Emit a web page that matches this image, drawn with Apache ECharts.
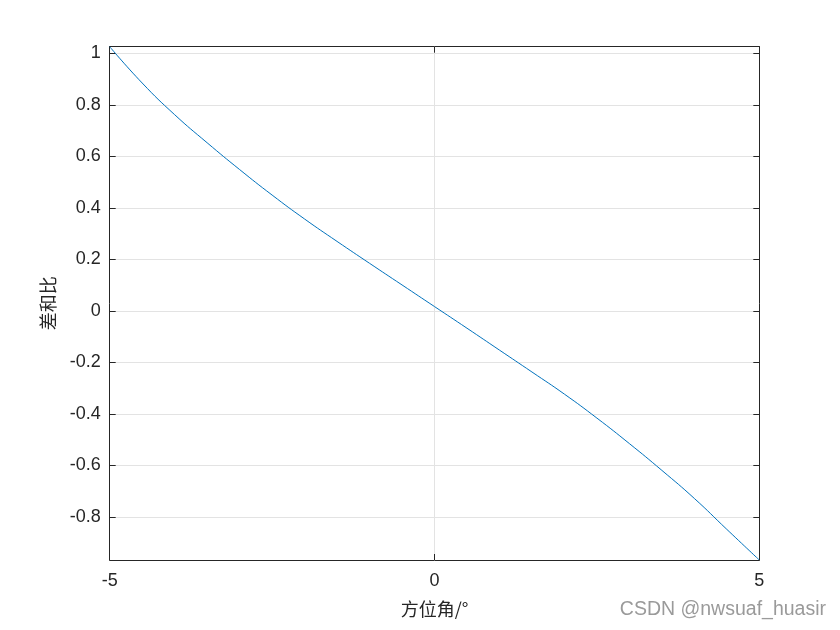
<!DOCTYPE html>
<html>
<head>
<meta charset="utf-8">
<script src="https://cdn.jsdelivr.net/npm/echarts@6/dist/echarts.min.js"></script>
<style>html,body{margin:0;padding:0;background:#fff}#c{width:840px;height:630px}</style>
</head>
<body>
<div id="c"></div>
<script>
// azimuth angle (deg)
var xs = [-5, -4.5, -4, -3.5, -3, -2.5, -2, -1.5, -1, -0.5, 0, 0.5, 1, 1.5, 2, 2.5, 3, 3.5, 4, 4.5, 5];
// difference-to-sum ratio
var ys = [1.026, 0.885, 0.762, 0.653, 0.549, 0.450, 0.357, 0.270, 0.185, 0.101, 0.017, -0.067, -0.152, -0.237, -0.323, -0.416, -0.515, -0.619, -0.728, -0.848, -0.967];
var xTicks = [-5, 0, 5];
var yTicks = [-0.8, -0.6, -0.4, -0.2, 0, 0.2, 0.4, 0.6, 0.8, 1];
var yMin = -0.967, yMax = 1.026;

var pts = xs.map(function (x, i) { return [x, ys[i]]; });
var txt = '#262626';
var lineC = '#262626';
var gridC = '#e3e3e3';
var chart = echarts.init(document.getElementById('c'));
chart.setOption({
  animation: false,
  backgroundColor: '#fff',
  grid: { left: 109.7, top: 46.7, right: 80.7, bottom: 70, containLabel: false },
  xAxis: [{
    type: 'value', min: -5, max: 5, interval: 5,
    name: '方位角/°', nameLocation: 'middle', nameGap: 40,
    nameTextStyle: { fontFamily: 'Noto Sans CJK SC', fontSize: 18, color: txt },
    axisLine: { onZero: false, lineStyle: { color: lineC, width: 1 } },
    axisTick: { inside: true, length: 6, lineStyle: { color: lineC } },
    axisLabel: { fontFamily: 'Liberation Sans, Arial', fontSize: 18, color: txt, margin: 12 },
    splitLine: { show: true, lineStyle: { color: gridC, width: 1 } }
  }, {
    type: 'value', position: 'top', min: -5, max: 5, interval: 5,
    axisLine: { onZero: false, lineStyle: { color: lineC, width: 1 } },
    axisTick: { inside: true, length: 6, lineStyle: { color: lineC } },
    axisLabel: { show: false }, splitLine: { show: false }
  }],
  yAxis: [{
    type: 'value', min: yMin, max: yMax,
    name: '差和比', nameLocation: 'middle', nameGap: 53, nameRotate: 90,
    nameTextStyle: { fontFamily: 'Noto Sans CJK SC', fontSize: 18, color: txt },
    axisLine: { show: true, onZero: false, lineStyle: { color: lineC, width: 1 } },
    axisTick: { show: true, inside: true, length: 6, customValues: yTicks, lineStyle: { color: lineC } },
    axisLabel: { fontFamily: 'Liberation Sans, Arial', fontSize: 18, color: txt, margin: 9, customValues: yTicks,
      formatter: function (v) { return String(Math.round(v * 10) / 10); } },
    splitLine: { show: true, lineStyle: { color: gridC, width: 1 } }
  }, {
    type: 'value', position: 'right', min: yMin, max: yMax,
    axisLine: { show: true, onZero: false, lineStyle: { color: lineC, width: 1 } },
    axisTick: { show: true, inside: true, length: 6, customValues: yTicks, lineStyle: { color: lineC } },
    axisLabel: { show: false }, splitLine: { show: false }
  }],
  series: [{
    type: 'line', data: pts, smooth: 0.5, showSymbol: false, symbol: 'none',
    lineStyle: { color: '#0072BD', width: 1 }, xAxisIndex: 0, yAxisIndex: 0
  }],
  graphic: [{
    type: 'text', right: 14, top: 600,
    style: { text: 'CSDN @nwsuaf_huasir', font: '19.5px "Liberation Sans", Arial', fill: '#9a9a9a' }
  }]
});
</script>
</body>
</html>
